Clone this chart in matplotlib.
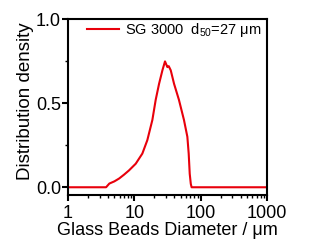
import matplotlib
matplotlib.use('Agg')
import matplotlib.pyplot as plt
from matplotlib.ticker import LogLocator, NullFormatter, MultipleLocator

plt.rcParams['font.family'] = ['Liberation Sans', 'DejaVu Sans']
plt.rcParams['mathtext.fontset'] = 'custom'
plt.rcParams['mathtext.rm'] = 'Liberation Sans'

# particle size distribution
diameter = [1, 3.75, 4.2, 5.0, 5.9, 7.0, 8.3, 10.5, 13.2, 15.7, 18.7, 21, 23.6,
            26.5, 29, 31.5, 33, 35.4, 39.7, 47, 56, 63, 66, 68.4, 71, 73, 1000]
density = [0, 0, 0.022, 0.035, 0.052, 0.075, 0.10, 0.14, 0.20, 0.28, 0.40, 0.52, 0.615,
           0.695, 0.748, 0.714, 0.72, 0.695, 0.615, 0.52, 0.40, 0.30, 0.20, 0.08, 0.02, 0, 0]

W, H = 314, 252
fig = plt.figure(figsize=(W / 100, H / 100), dpi=100)
ax = fig.add_axes([68 / W, 1 - 195 / H, (267 - 68) / W, (195 - 19) / H])

ax.plot(diameter, density, color='#e8000b', lw=1.5,
        label='SG 3000  d$_{\\mathregular{50}}$=27 μm')
ax.set_xscale('log')
ax.set_xlim(1, 1000)
ax.set_ylim(-0.046, 1.0)
ax.set_xticks([1, 10, 100, 1000])
ax.set_xticklabels(['1', '10', '100', '1000'])
ax.xaxis.set_minor_locator(LogLocator(base=10, subs=range(2, 10)))
ax.xaxis.set_minor_formatter(NullFormatter())
ax.set_yticks([0, 0.5, 1.0])
ax.set_yticklabels(['0.0', '0.5', '1.0'])
ax.yaxis.set_minor_locator(MultipleLocator(0.25))

for s in ax.spines.values():
    s.set_linewidth(1.5)
ax.tick_params(which='major', direction='out', length=4, width=1.5, labelsize=13)
ax.tick_params(axis='x', which='major', pad=3)
ax.tick_params(axis='y', which='major', pad=1)
ax.tick_params(which='minor', direction='out', length=2.5, width=1)

ax.set_xlabel('Glass Beads Diameter / μm', fontsize=13, labelpad=0)
ax.set_ylabel('Distribution density', fontsize=13.5)
ax.yaxis.set_label_coords(-0.172, 0.531)

ax.legend(loc='center left', bbox_to_anchor=((86.7 - 68) / 199, 1 - 11 / 176),
          frameon=False, fontsize=10.5, handlelength=2.2, handletextpad=0.45,
          borderpad=0, borderaxespad=0)

fig.savefig('out.png', dpi=100)
